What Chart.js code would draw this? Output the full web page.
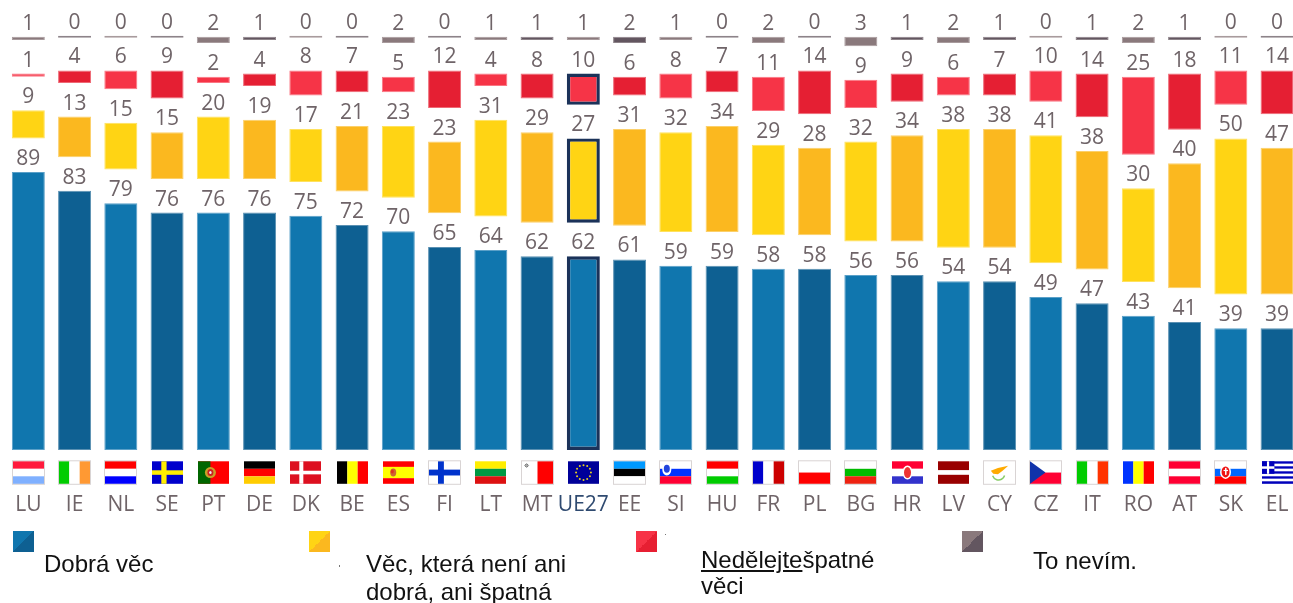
<!DOCTYPE html>
<html lang="cs"><head><meta charset="utf-8">
<script src="https://cdn.jsdelivr.net/npm/chart.js@4"></script>
<style>
html,body{margin:0;padding:0;width:1293px;height:603px;overflow:hidden;background:#fff}
#wrap{position:relative;width:1293px;height:603px;overflow:hidden}
canvas{position:absolute;left:0;top:0}
.sw{position:absolute;top:531px;width:21px;height:21px}
.t{position:absolute;font:24px/28px "Liberation Sans",Arial,sans-serif;color:#111;white-space:pre}
.dot{position:absolute;width:1px;height:2px;background:#777}
</style></head><body>
<div id="wrap">
<canvas id="c" width="1301" height="603"></canvas>
<div class="sw" style="left:12.5px;background:linear-gradient(135deg,#1076ae 50%,#0e6092 50%)"></div>
<div class="sw" style="left:309px;background:linear-gradient(135deg,#ffd414 50%,#fbb81f 50%)"></div>
<div class="sw" style="left:635.5px;background:linear-gradient(135deg,#f73346 50%,#e71f32 50%)"></div>
<div class="sw" style="left:962px;background:linear-gradient(135deg,#8a797c 50%,#635660 50%)"></div>
<div class="t" style="left:44px;top:550px">Dobrá věc</div>
<div class="t" style="left:366px;top:550px">Věc, která není ani</div>
<div class="t" style="left:366px;top:578px">dobrá, ani špatná</div>
<div class="t" style="left:701px;top:546px"><u>Nedělejte</u>špatné</div>
<div class="t" style="left:701px;top:572px">věci</div>
<div class="t" style="left:1033px;top:547px">To nevím.</div>
<div class="dot" style="left:339px;top:565px"></div>
<div class="dot" style="left:665px;top:534px;height:1px"></div>
</div>
<script>
const categories = ["LU","IE","NL","SE","PT","DE","DK","BE","ES","FI","LT","MT","UE27","EE","SI","HU","FR","PL","BG","HR","LV","CY","CZ","IT","RO","AT","SK","EL"];
const good    = [89,83,79,76,76,76,75,72,70,65,64,62,62,61,59,59,58,58,56,56,54,54,49,47,43,41,39,39];
const neither = [ 9,13,15,15,20,19,17,21,23,23,31,29,27,31,32,34,29,28,32,34,38,38,41,38,30,40,50,47];
const bad     = [ 1, 4, 6, 9, 2, 4, 8, 7, 5,12, 4, 8,10, 6, 8, 7,11,14, 9, 9, 6, 7,10,14,25,18,11,14];
const dontKnow= [ 1, 0, 0, 0, 2, 1, 0, 0, 2, 0, 1, 1, 1, 2, 1, 0, 2, 0, 3, 1, 2, 1, 0, 1, 2, 1, 0, 0];
const gapValue = 10.75;
const highlight = "UE27";

const gapRow = categories.map(() => gapValue);
const alt = (a, b) => ctx => ctx.dataIndex % 2 === 0 ? a : b;
const isHi = i => categories[i] === highlight;
const navy = "#1b3259";

function series(data, light, dark, edgeL, edgeD, framed) {
  return {
    data, backgroundColor: alt(light, dark), stack: "s",
    borderColor: ctx => (framed && isHi(ctx.dataIndex)) ? navy : (ctx.dataIndex % 2 === 0 ? edgeL : edgeD),
    borderWidth: ctx => (framed && isHi(ctx.dataIndex)) ? 3.4 : 1,
    borderSkipped: false,
    minBarLength: 2, showValue: true
  };
}
const spacer = () => ({ data: gapRow, backgroundColor: "rgba(0,0,0,0)", borderWidth: 0, stack: "s", showValue: false });

const datasets = [
  series(good, "#1076ae", "#0e6092", "#5aa0c8", "#5a90b2", true), spacer(),
  series(neither, "#ffd414", "#fbb81f", "#ffe25e", "#fcd06a", true), spacer(),
  series(bad, "#f63447", "#e51f33", "#fa7683", "#ee6975", true), spacer(),
  series(dontKnow, "#8a797c", "#635660", "#a89b9d", "#8d8389", false)
];

const valueLabels = {
  id: "valueLabels",
  afterDatasetsDraw(chart) {
    const g = chart.ctx;
    g.save();
    g.font = '21px "Open Sans"';
    g.fillStyle = "#6f6468";
    g.textAlign = "center";
    g.textBaseline = "alphabetic";
    chart.data.datasets.forEach((ds, d) => {
      if (!ds.showValue) return;
      chart.getDatasetMeta(d).data.forEach((bar, i) => {
        g.fillText(String(ds.data[i]), bar.x, Math.min(bar.y, bar.base) - 7);
      });
    });
    g.restore();
  }
};

function stripesH(g, w, h, cols, ws) {
  const tot = (ws || cols.map(() => 1)).reduce((a, b) => a + b, 0);
  let y = 0;
  cols.forEach((c, i) => { const hh = h * (ws ? ws[i] : 1) / tot; g.fillStyle = c; g.fillRect(0, y, w, hh); y += hh; });
}
function stripesV(g, w, h, cols) {
  cols.forEach((c, i) => { g.fillStyle = c; g.fillRect(w * i / cols.length, 0, w / cols.length, h); });
}
function rect(g, c, x, y, w, h) { g.fillStyle = c; g.fillRect(x, y, w, h); }
function blob(g, c, x, y, rx, ry) { g.fillStyle = c; g.beginPath(); g.ellipse(x, y, rx, ry, 0, 0, 7); g.fill(); }

const flags = {
  LU: (g,w,h) => stripesH(g,w,h,["#ff1a3c","#fff","#7fb0ff"]),
  IE: (g,w,h) => stripesV(g,w,h,["#00cc00","#fff","#ff9933"]),
  NL: (g,w,h) => stripesH(g,w,h,["#ff0000","#fff","#0000ff"]),
  SE: (g,w,h) => { rect(g,"#0000cc",0,0,w,h); rect(g,"#ffee00",w*.3,0,w*.17,h); rect(g,"#ffee00",0,h*.4,w,h*.2); },
  PT: (g,w,h) => { rect(g,"#ff0000",0,0,w,h); rect(g,"#006600",0,0,w*.4,h); blob(g,"#c9a227",w*.4,h*.5,5.5,5.5); blob(g,"#cc2222",w*.4,h*.5,3,3.5); blob(g,"#eee",w*.4,h*.5,1.2,1.5); },
  DE: (g,w,h) => stripesH(g,w,h,["#000","#ff0000","#ffcc00"]),
  DK: (g,w,h) => { rect(g,"#dd1020",0,0,w,h); rect(g,"#fff",w*.3,0,w*.13,h); rect(g,"#fff",0,h*.42,w,h*.16); },
  BE: (g,w,h) => stripesV(g,w,h,["#000","#ffff00","#ff0000"]),
  ES: (g,w,h) => { stripesH(g,w,h,["#ff0000","#ffff00","#ff0000"],[1,2,1]); blob(g,"#cc6633",w*.33,h*.5,3,4); blob(g,"#dd3322",w*.3,h*.45,1.5,2); },
  FI: (g,w,h) => { rect(g,"#fff",0,0,w,h); rect(g,"#0033cc",w*.29,0,w*.19,h); rect(g,"#0033cc",0,h*.37,w,h*.26); },
  LT: (g,w,h) => stripesH(g,w,h,["#ffee00","#009944","#dd1111"]),
  MT: (g,w,h) => { rect(g,"#fff",0,0,w,h); rect(g,"#ff0000",w*.5,0,w*.5,h); rect(g,"#777",w*.1,h*.12,3,3); rect(g,"#aaa",w*.1-1,h*.12+1,5,1); rect(g,"#aaa",w*.1+1,h*.12-1,1,5); },
  UE27: (g,w,h) => { rect(g,"#000099",0,0,w,h); g.fillStyle="#e8d21d"; for (let k=0;k<12;k++){ const a=k*Math.PI/6; g.beginPath(); g.arc(w/2+Math.cos(a)*h*.33,h/2+Math.sin(a)*h*.33,1,0,7); g.fill(); } },
  EE: (g,w,h) => stripesH(g,w,h,["#0099ff","#000","#fff"]),
  SI: (g,w,h) => { stripesH(g,w,h,["#fff","#0033ff","#ff0033"]); blob(g,"#fff",w*.22,h*.36,4.5,6); blob(g,"#2244dd",w*.22,h*.33,3,4); },
  HU: (g,w,h) => stripesH(g,w,h,["#ff0000","#fff","#00cc00"]),
  FR: (g,w,h) => stripesV(g,w,h,["#0000cc","#fff","#cc0000"]),
  PL: (g,w,h) => stripesH(g,w,h,["#fff","#ff0000"]),
  BG: (g,w,h) => stripesH(g,w,h,["#fff","#00bb00","#ee2211"]),
  HR: (g,w,h) => { stripesH(g,w,h,["#ff0033","#fff","#3333cc"]); blob(g,"#fff",w*.5,h*.5,5,7); blob(g,"#e33",w*.5,h*.5,3.5,5.5); },
  LV: (g,w,h) => stripesH(g,w,h,["#990000","#fff","#990000"],[2,1,2]),
  CY: (g,w,h) => { rect(g,"#fff",0,0,w,h); g.fillStyle="#ffaa00"; g.beginPath(); g.moveTo(w*.22,h*.42); g.lineTo(w*.45,h*.3); g.lineTo(w*.78,h*.2); g.lineTo(w*.6,h*.42); g.lineTo(w*.45,h*.58); g.lineTo(w*.3,h*.55); g.fill(); g.strokeStyle="#88cc66"; g.lineWidth=1.5; g.beginPath(); g.arc(w*.47,h*.55,h*.28,.3,2.8); g.stroke(); },
  CZ: (g,w,h) => { stripesH(g,w,h,["#fff","#ff0033"]); g.fillStyle="#1133aa"; g.beginPath(); g.moveTo(0,0); g.lineTo(w*.5,h/2); g.lineTo(0,h); g.fill(); },
  IT: (g,w,h) => stripesV(g,w,h,["#00cc00","#fff","#ff3300"]),
  RO: (g,w,h) => stripesV(g,w,h,["#0033ff","#ffff00","#ff0000"]),
  AT: (g,w,h) => stripesH(g,w,h,["#ff0033","#fff","#ff0033"]),
  SK: (g,w,h) => { stripesH(g,w,h,["#fff","#0066ff","#ff0000"]); blob(g,"#fff",w*.34,h*.47,5.5,7); blob(g,"#ee1111",w*.34,h*.47,4,5.5); rect(g,"#fff",w*.34-.5,h*.47-4,1.5,7); rect(g,"#fff",w*.34-2,h*.47-2,4.5,1.2); },
  EL: (g,w,h) => { stripesH(g,w,h,["#0000bb","#fff","#0000bb","#fff","#0000bb","#fff","#0000bb","#fff","#0000bb"]); rect(g,"#0000bb",0,0,w*.4,h*5/9); rect(g,"#fff",w*.16,0,w*.07,h*5/9); rect(g,"#fff",0,h*2/9,w*.4,h/9); }
};
const bordered = new Set(["LU","IE","NL","FI","MT","EE","SI","HU","PL","BG","CY","CZ","IT","SK","FR","AT"]);

const flagRow = {
  id: "flagRow",
  afterDraw(chart) {
    const g = chart.ctx, xs = chart.scales.x, w = 31, h = 22.5;
    const top = chart.chartArea.bottom + 11.3;
    categories.forEach((code, i) => {
      const x = Math.round(xs.getPixelForTick(i) - w / 2);
      g.save();
      g.translate(x, top);
      flags[code](g, w, h);
      if (bordered.has(code)) { g.strokeStyle = "rgba(170,160,160,.45)"; g.lineWidth = 1; g.strokeRect(-.5, -.5, w + 1, h + 1); }
      g.restore();
    });
  }
};

new Chart(document.getElementById("c"), {
  type: "bar",
  data: { labels: categories, datasets },
  plugins: [valueLabels, flagRow],
  options: {
    responsive: false, animation: false,
    barPercentage: 0.7135, categoryPercentage: 1,
    layout: { padding: { left: 5.2, right: 0.8, top: 0, bottom: 0 } },
    plugins: { legend: { display: false }, tooltip: { enabled: false } },
    scales: {
      x: {
        stacked: true,
        grid: { display: false, drawTicks: true, tickLength: 42 }, border: { display: false },
        afterFit: s => { s.height = 153; },
        ticks: {
          autoSkip: false, maxRotation: 0, minRotation: 0, padding: 0,
          font: { family: "Open Sans", size: 21 },
          color: ctx => categories[ctx.index] === highlight ? "#2f4a70" : "#6f6468"
        }
      },
      y: { stacked: true, display: false, min: 0, max: 450 / 3.124 }
    }
  }
});
</script>
</body></html>
